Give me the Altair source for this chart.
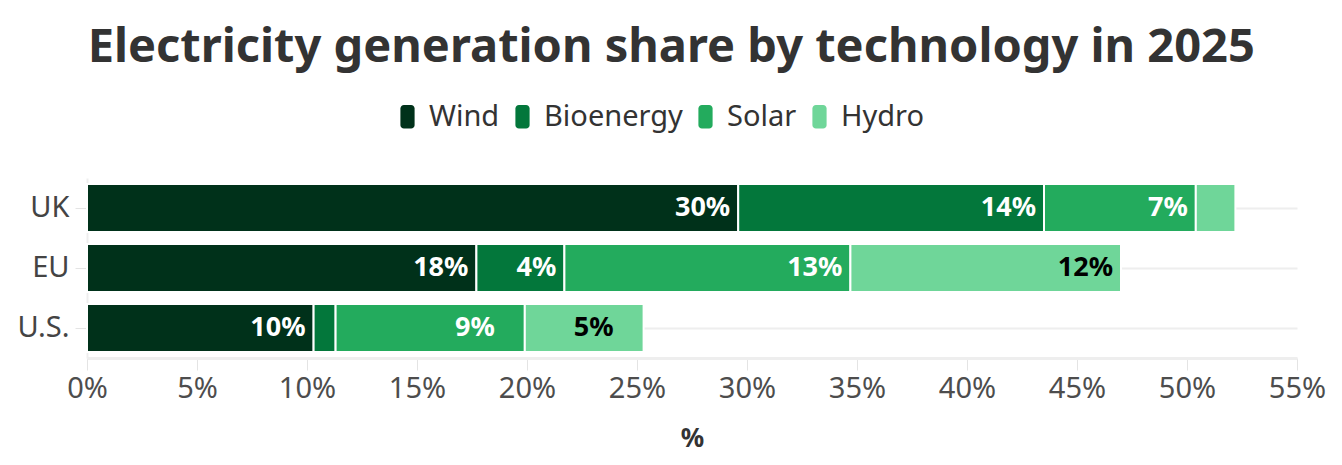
import altair as alt
import pandas as pd

regions = ["UK", "EU", "U.S."]
techs = ["Wind", "Bioenergy", "Solar", "Hydro"]
colors = ["#00311a", "#03773b", "#23ab5d", "#6fd699"]
wind = [29.6, 17.7, 10.3]
bioenergy = [13.9, 4.0, 1.0]
solar = [6.9, 13.0, 8.6]
hydro = [1.8, 12.3, 5.4]
x_ticks = [0, 5, 10, 15, 20, 25, 30, 35, 40, 45, 50, 55]

rows = []
for i, r in enumerate(regions):
    for j, (t, vals) in enumerate(zip(techs, [wind, bioenergy, solar, hydro])):
        rows.append({"region": r, "tech": t, "value": vals[i], "order": j})
df = pd.DataFrame(rows)

FONT = "Noto Sans"
legend_path = ("M-0.3,-1 L0.3,-1 A0.3,0.3 0 0 1 0.6,-0.7 L0.6,0.7 "
               "A0.3,0.3 0 0 1 0.3,1 L-0.3,1 A0.3,0.3 0 0 1 -0.6,0.7 "
               "L-0.6,-0.7 A0.3,0.3 0 0 1 -0.3,-1 Z")

base = alt.Chart(df)

bars = base.mark_bar(stroke="white", strokeWidth=2).encode(
    y=alt.Y("region:N", sort=regions, title=None,
            scale=alt.Scale(paddingInner=0.2, paddingOuter=0.1),
            axis=alt.Axis(labelFontSize=29, labelColor="#444444", labelFont=FONT,
                          labelPadding=6, tickColor="#e4e4e4", tickSize=12,
                          domainColor="#eeeeee", domainWidth=2,
                          grid=True, gridColor="#eeeeee", gridWidth=2)),
    x=alt.X("value:Q", stack="zero", title="%",
            scale=alt.Scale(domain=[0, 55], nice=False),
            axis=alt.Axis(values=x_ticks, labelExpr="datum.value + '%'",
                          labelFlush=False, labelOverlap=False,
                          labelFontSize=29, labelColor="#4d4d4d", labelFont=FONT,
                          labelPadding=4, tickColor="#e4e4e4", tickSize=12,
                          domainColor="#eeeeee", domainWidth=3, grid=False,
                          titleFontSize=26, titleColor="#333333", titleFont=FONT,
                          titleFontWeight="bold", titlePadding=22)),
    color=alt.Color("tech:N", sort=techs,
                    scale=alt.Scale(domain=techs, range=colors),
                    legend=alt.Legend(title=None, orient="none", direction="horizontal",
                                      legendX=306, legendY=-76,
                                      labelFontSize=29, labelColor="#333333", labelFont=FONT,
                                      symbolType=legend_path, symbolSize=560,
                                      symbolStrokeWidth=0, symbolOpacity=1,
                                      labelOffset=7, columnPadding=8)),
    order=alt.Order("order:Q"),
)

labels = base.transform_filter("datum.value >= 3").transform_calculate(
    lbl="format(datum.value, '.0f') + '%'"
).mark_text(
    align="right", baseline="middle", dx=-8, fontSize=27, fontWeight="bold", font=FONT
).encode(
    y=alt.Y("region:N", sort=regions),
    x=alt.X("value:Q", stack="zero"),
    detail="tech:N",
    order=alt.Order("order:Q"),
    text="lbl:N",
    color=alt.condition("datum.tech == 'Hydro'", alt.value("black"), alt.value("white")),
)

chart = alt.layer(bars, labels).properties(
    width=1210, height=180,
    autosize=alt.AutoSizeParams(type="none"),
    padding={"left": 79, "top": 170, "right": 30, "bottom": 102},
    title=alt.Title("Electricity generation share by technology in 2025",
                    fontSize=47, fontWeight="bold", color="#333333", font=FONT,
                    anchor="middle", frame="bounds", offset=30),
).configure_view(stroke=None)

chart.save("out.html", embed_options={"renderer": "svg", "actions": False})
